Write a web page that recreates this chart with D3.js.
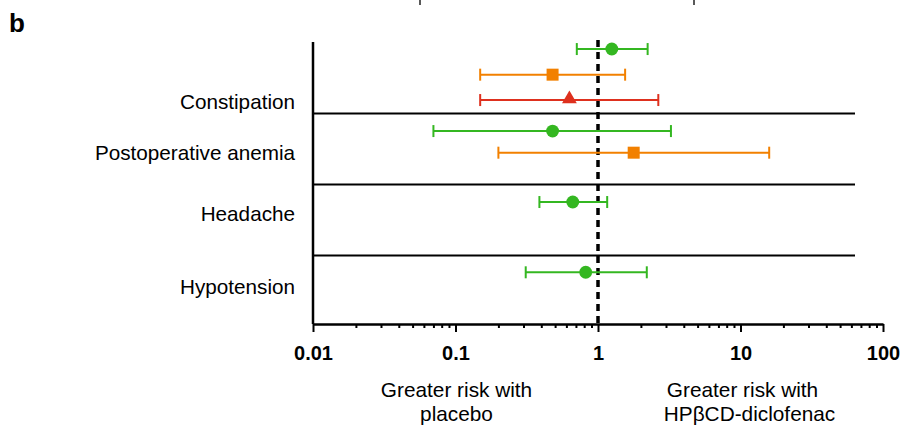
<!DOCTYPE html>
<html>
<head>
<meta charset="utf-8">
<script src="https://cdn.jsdelivr.net/npm/d3@7"></script>
<style>
  body { margin: 0; background: #fff; }
  text { font-family: "Liberation Sans", Arial, sans-serif; }
</style>
</head>
<body>
<svg id="forest" width="905" height="425"></svg>
<script>
var svg = d3.select("#forest")
var width = svg.attr("width")*1, height = svg.attr("height")*1

// Data
var categories = ["Constipation", "Postoperative anemia", "Headache", "Hypotension"]
var categoryRows = [2.55, 4.72, 7.32, 10.43]
var dividerRows = [3.04, 6.06, 9.09]
var pointRows = [0.3, 1.39, 2.47, 3.79, 4.71, 6.81, 9.8]
var estimates = [1.25, 0.48, 0.63, 0.48, 1.78, 0.665, 0.82]
var lowerCI = [0.71, 0.149, 0.149, 0.07, 0.2, 0.388, 0.311]
var upperCI = [2.23, 1.55, 2.65, 3.25, 15.9, 1.16, 2.2]
var pointSeries = ["green", "orange", "red", "green", "orange", "green", "green"]
var majorTicks = [0.01, 0.1, 1, 10, 100]
var tickLabels = ["0.01", "0.1", "1", "10", "100"]
var leftNote = ["Greater risk with", "placebo"]
var rightNote = ["Greater risk with", "HPβCD-diclofenac"]

var seriesColors = {"green": "rgb(52, 183, 33)", "orange": "rgb(242, 128, 0)", "red": "rgb(222, 48, 30)"}
var seriesShapes = {"green": d3.symbolCircle, "orange": d3.symbolSquare, "red": d3.symbolTriangle}
var seriesSizes = {"green": 130, "orange": 144, "red": 95}

var points = pointRows.map((r, i) => ({"row": r, "est": estimates[i], "lo": lowerCI[i], "hi": upperCI[i], "series": pointSeries[i]}))

// Scales
var plotLeft = 313, plotRight = 883, plotTop = 42, plotBottom = 324
var xSpace = d3.scaleLog().domain([0.01, 100]).range([plotLeft, plotRight])
var ySpace = d3.scaleLinear().domain([0, 12]).range([plotTop, plotBottom])

var minorTicks = []
for (let d = 0.01; d < 100; d *= 10) {
    for (let k = 2; k < 10; k++) minorTicks.push(+(d*k).toPrecision(3))
}

// panel letter and cut-off marks from the figure above
svg.append("text").attr("x", 9).attr("y", 32)
    .style("font-size", "26px").style("font-weight", "bold").text("b")
svg.selectAll("cutMarks").data([420, 694]).enter().append("line")
    .attr("x1", d => d).attr("x2", d => d).attr("y1", 0).attr("y2", 5)
    .attr("stroke", "#222").attr("stroke-width", 1.5)

// divider lines
svg.selectAll("dividers").data(dividerRows).enter().append("line")
    .attr("x1", plotLeft).attr("x2", 855)
    .attr("y1", d => ySpace(d)).attr("y2", d => ySpace(d))
    .attr("stroke", "#000").attr("stroke-width", 2)

// y axis line
svg.append("line")
    .attr("x1", plotLeft).attr("x2", plotLeft)
    .attr("y1", plotTop).attr("y2", plotBottom)
    .attr("stroke", "#000").attr("stroke-width", 2.5)

// x axis: minor then major
var minorAxis = svg.append("g").attr("transform", "translate(0," + plotBottom + ")")
    .call(d3.axisBottom(xSpace).tickValues(minorTicks).tickSize(4).tickFormat(""))
minorAxis.select(".domain").remove()
minorAxis.selectAll(".tick line").attr("stroke-width", 2)

var majorAxis = svg.append("g").attr("transform", "translate(0," + plotBottom + ")")
    .call(d3.axisBottom(xSpace).tickValues(majorTicks).tickSize(8).tickPadding(14)
        .tickFormat((d, i) => tickLabels[i]).tickSizeOuter(0))
majorAxis.select(".domain").attr("stroke-width", 2.5)
majorAxis.selectAll(".tick line").attr("stroke-width", 2)
majorAxis.selectAll(".tick text")
    .style("font-family", "'Liberation Sans', Arial, sans-serif")
    .style("font-size", "20px").style("font-weight", "bold").attr("fill", "#000")

// reference line at 1
svg.append("line")
    .attr("x1", xSpace(1)).attr("x2", xSpace(1))
    .attr("y1", 40).attr("y2", plotBottom)
    .attr("stroke", "#000").attr("stroke-width", 3.5)
    .attr("stroke-dasharray", "7,5")

// category labels
svg.selectAll("catLabels").data(categories).enter().append("text")
    .attr("x", 295).attr("y", (d, i) => ySpace(categoryRows[i]))
    .attr("text-anchor", "end").attr("dy", "0.35em")
    .style("font-size", "20.7px").attr("fill", "#000")
    .text(d => d)

// error bars
var bars = svg.selectAll("bars").data(points).enter().append("g")
    .attr("stroke", d => seriesColors[d.series]).attr("stroke-width", 2)
bars.append("line")
    .attr("x1", d => xSpace(d.lo)).attr("x2", d => xSpace(d.hi))
    .attr("y1", d => ySpace(d.row)).attr("y2", d => ySpace(d.row))
bars.append("line")
    .attr("x1", d => xSpace(d.lo)).attr("x2", d => xSpace(d.lo))
    .attr("y1", d => ySpace(d.row) - 6).attr("y2", d => ySpace(d.row) + 6)
bars.append("line")
    .attr("x1", d => xSpace(d.hi)).attr("x2", d => xSpace(d.hi))
    .attr("y1", d => ySpace(d.row) - 6).attr("y2", d => ySpace(d.row) + 6)

// point estimates
svg.selectAll("markers").data(points).enter().append("path")
    .attr("d", d => d3.symbol().type(seriesShapes[d.series]).size(seriesSizes[d.series])())
    .attr("transform", d => "translate(" + xSpace(d.est) + "," + (ySpace(d.row) - (d.series == "red" ? 1 : 0)) + ")")
    .attr("fill", d => seriesColors[d.series])

// notes under the axis
svg.selectAll("leftNote").data(leftNote).enter().append("text")
    .attr("x", xSpace(0.1) + 1).attr("y", (d, i) => 397 + i*24)
    .attr("text-anchor", "middle").style("font-size", "20.8px").attr("fill", "#000")
    .text(d => d)
svg.selectAll("rightNote").data(rightNote).enter().append("text")
    .attr("x", (d, i) => xSpace(10) + [2, 9][i]).attr("y", (d, i) => 397 + i*24)
    .attr("text-anchor", "middle").style("font-size", "20.8px").attr("fill", "#000")
    .text(d => d)
</script>
</body>
</html>
